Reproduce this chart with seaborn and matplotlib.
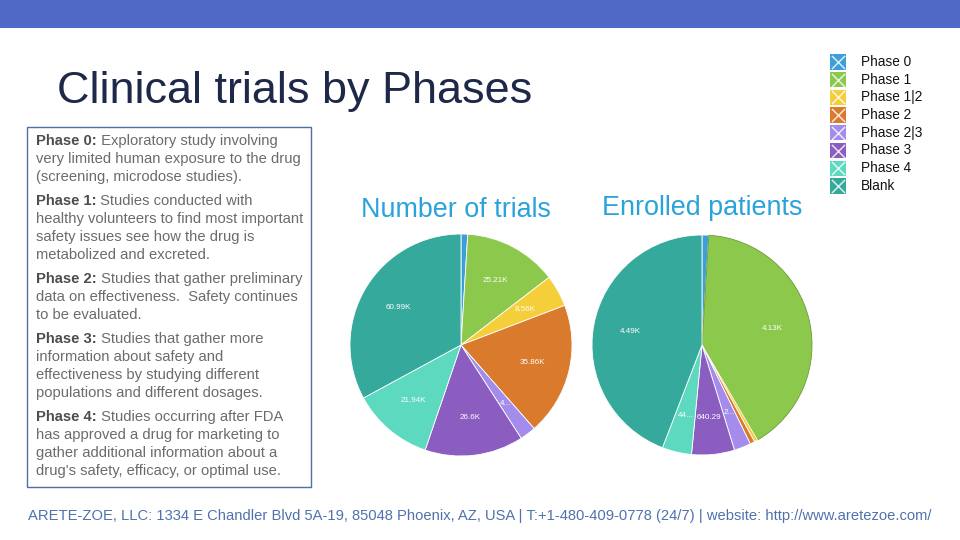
import matplotlib
matplotlib.use("Agg")
import matplotlib.pyplot as plt
import seaborn as sns
import pandas as pd

# data
phases = ["Phase 0", "Phase 1", "Phase 1|2", "Phase 2", "Phase 2|3", "Phase 3", "Phase 4", "Blank"]
trials = [1.8, 25.21, 8.56, 35.86, 4.3, 26.6, 21.94, 60.99]  # thousands
trials_labels = ["", "25.21K", "8.56K", "35.86K", "4...", "26.6K", "21.94K", "60.99K"]
patients = [0.10, 4.13, 0.05, 0.07, 0.25, 0.64029, 0.44, 4.49]  # thousands
patients_labels = ["", "4.13K", "", "", "2...", "640.29", "44...", "4.49K"]
phase_colors = ["#3c9fd9", "#8cc84b", "#f4cf3a", "#d97a2d", "#a38cec", "#8c5dc0", "#5dd9bf", "#36a99d"]

notes = [
    ("Phase 0:", [" Exploratory study involving",
                  "very limited human exposure to the drug",
                  "(screening, microdose studies)."]),
    ("Phase 1:", [" Studies conducted with",
                  "healthy volunteers to find most important",
                  "safety issues see how the drug is",
                  "metabolized and excreted."]),
    ("Phase 2:", [" Studies that gather preliminary",
                  "data on effectiveness.  Safety continues",
                  "to be evaluated."]),
    ("Phase 3:", [" Studies that gather more",
                  "information about safety and",
                  "effectiveness by studying different",
                  "populations and different dosages."]),
    ("Phase 4:", [" Studies occurring after FDA",
                  "has approved a drug for marketing to",
                  "gather additional information about a",
                  "drug's safety, efficacy, or optimal use."]),
]
footer = ("ARETE-ZOE, LLC: 1334 E Chandler Blvd 5A-19, 85048 Phoenix, AZ, USA | "
          "T:+1-480-409-0778 (24/7) | website: http://www.aretezoe.com/")

sns.set_theme(style="white")
plt.rcParams["font.family"] = ["Liberation Sans", "DejaVu Sans"]
palette = sns.color_palette(phase_colors)

W, H = 960, 540
fig = plt.figure(figsize=(9.6, 5.4), dpi=100)
fig.patch.set_facecolor("white")

# slide canvas in pixel coordinates
bg = fig.add_axes([0, 0, 1, 1])
bg.set_xlim(0, W)
bg.set_ylim(H, 0)
bg.axis("off")

bg.add_patch(plt.Rectangle((0, 0), W, 28, color="#5068c6", lw=0))
bg.text(57, 103, "Clinical trials by Phases", fontsize=32.4, color="#1e2848",
        va="baseline", ha="left")

# description box
bg.add_patch(plt.Rectangle((27, 127), 284, 360, fill=False, edgecolor="#4f6fa8", lw=1))
fig.canvas.draw()
renderer = fig.canvas.get_renderer()
y = 141
for head, lines in notes:
    t = bg.text(36, y, head, fontsize=10.6, fontweight="bold", color="#4d4d4d", va="center")
    wpx = t.get_window_extent(renderer).width
    bg.text(36 + wpx, y, lines[0], fontsize=10.6, color="#6b6b6b", va="center")
    for ln in lines[1:]:
        y += 18
        bg.text(36, y, ln, fontsize=10.6, color="#6b6b6b", va="center")
    y += 24

bg.text(480, 516, footer, fontsize=10.6, color="#4f72ad", ha="center", va="center")

# legend
leg = pd.DataFrame({"phase": phases, "x": [838] * len(phases),
                    "y": [62 + 17.7 * i for i in range(len(phases))]})
sns.scatterplot(data=leg, x="x", y="y", hue="phase", palette=palette, marker="s",
                s=120, linewidth=0, legend=False, ax=bg)
bg.scatter(leg["x"], leg["y"], marker="x", s=90, color="white", linewidths=1.1, alpha=0.8)
for _, r in leg.iterrows():
    bg.text(861, r["y"], r["phase"], fontsize=9.8, color="#111111", va="center")
bg.set_xlim(0, W)
bg.set_ylim(H, 0)
bg.set_xlabel("")
bg.set_ylabel("")


def pie_axes(cx, cy, r):
    return fig.add_axes([(cx - r) / W, (H - cy - r) / H, 2 * r / W, 2 * r / H])


def draw_pie(ax, values, labels, edge):
    wedges, texts = ax.pie(values, labels=labels, colors=palette, startangle=90,
                           counterclock=False, labeldistance=0.66,
                           wedgeprops=dict(edgecolor=edge, linewidth=0.6),
                           textprops=dict(color="white", fontsize=5.8, ha="center", va="center"))
    ax.set_xlim(-1.0, 1.0)
    ax.set_ylim(-1.0, 1.0)
    return wedges


ax1 = pie_axes(461, 345, 111)
draw_pie(ax1, trials, trials_labels, "white")
bg.text(456, 210, "Number of trials", fontsize=19.4, color="#2aa3db", ha="center", va="center")

ax2 = pie_axes(702, 345, 110)
w2 = draw_pie(ax2, patients, patients_labels, "white")
w2[1].set_edgecolor("#6f9a3a")
bg.text(702, 208, "Enrolled patients", fontsize=19.4, color="#2aa3db", ha="center", va="center")

fig.savefig("out.png", dpi=100)
